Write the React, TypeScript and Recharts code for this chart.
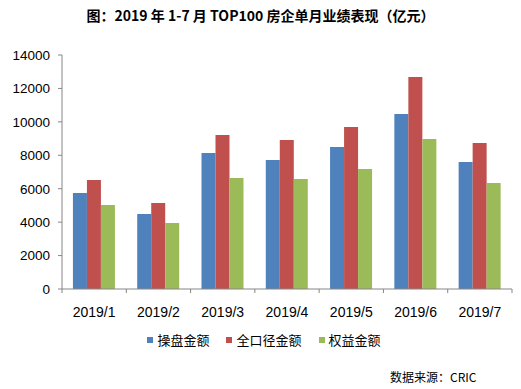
import { Bar, BarChart, Legend, XAxis, YAxis } from "recharts";

const months = ["2019/1", "2019/2", "2019/3", "2019/4", "2019/5", "2019/6", "2019/7"];
const operating = [5750, 4490, 8140, 7720, 8500, 10470, 7600];
const fullScope = [6520, 5150, 9220, 8920, 9690, 12690, 8740];
const equity = [5030, 3950, 6640, 6580, 7180, 8980, 6340];
const yTicks = [0, 2000, 4000, 6000, 8000, 10000, 12000, 14000];

const seriesInfo = [
  { key: "operating", name: "操盘金额", color: "#4F81BD" },
  { key: "fullScope", name: "全口径金额", color: "#C0504D" },
  { key: "equity", name: "权益金额", color: "#9BBB59" },
];

const data = months.map((month, i) => ({
  month,
  operating: operating[i],
  fullScope: fullScope[i],
  equity: equity[i],
}));

const W = 521;
const H = 389;
const M = { top: 55, right: 9, left: 0, bottom: 70 };
const Y_W = 62;
const bandWidth = (W - M.left - M.right - Y_W) / months.length;
const font = "'Liberation Sans', Arial, 'Noto Sans CJK SC', sans-serif";

function MonthTick(props: any) {
  const { x, y, payload, index } = props;
  const left = x - bandWidth / 2;
  return (
    <g>
      <line x1={left} y1={y - 8} x2={left} y2={y - 4} stroke="#868686" />
      {index === months.length - 1 && (
        <line x1={left + bandWidth} y1={y - 8} x2={left + bandWidth} y2={y - 4} stroke="#868686" />
      )}
      <text x={x} y={y + 20} textAnchor="middle" fontSize={14} fill="#000" fontFamily={font}>
        {payload.value}
      </text>
    </g>
  );
}

function LegendRow() {
  return (
    <div style={{ display: "flex", justifyContent: "center", fontFamily: font, paddingLeft: 24 }}>
      {seriesInfo.map((s) => (
        <div key={s.key} style={{ display: "flex", alignItems: "center", marginRight: 17 }}>
          <span style={{ width: 6, height: 6, background: s.color, marginRight: 4 }} />
          <span style={{ fontSize: 13, color: "#000" }}>{s.name}</span>
        </div>
      ))}
    </div>
  );
}

export default function App() {
  return (
    <div
      style={{
        position: "absolute",
        left: 0,
        top: 0,
        width: W,
        height: H,
        background: "#fff",
        fontFamily: font,
      }}
    >
      <div
        style={{
          position: "absolute",
          top: 5,
          left: 0,
          width: W,
          textAlign: "center",
          fontSize: 14,
          fontWeight: 700,
          color: "#000",
          fontFamily: "'Noto Sans CJK SC', sans-serif",
        }}
      >
        图：2019 年 1-7 月 TOP100 房企单月业绩表现（亿元）
      </div>
      <BarChart
        width={W}
        height={H}
        data={data}
        margin={M}
        barCategoryGap="17%"
        barGap={0}
      >
        <XAxis
          dataKey="month"
          axisLine={{ stroke: "#868686" }}
          tickLine={false}
          tick={<MonthTick />}
          interval={0}
          height={30}
        />
        <YAxis
          domain={[0, 14000]}
          ticks={yTicks}
          interval={0}
          width={Y_W}
          axisLine={{ stroke: "#868686" }}
          tickLine={{ stroke: "#868686" }}
          tickSize={4}
          tickMargin={8}
          tick={{ fontSize: 13.5, fill: "#000", fontFamily: font }}
        />
        <Legend
          layout="horizontal"
          verticalAlign="middle"
          align="center"
          content={<LegendRow />}
          wrapperStyle={{ top: 330, left: 0, width: W }}
        />
        {seriesInfo.map((s) => (
          <Bar key={s.key} dataKey={s.key} name={s.name} fill={s.color} isAnimationActive={false} />
        ))}
      </BarChart>
      <div
        style={{
          position: "absolute",
          top: 368,
          left: 390,
          fontSize: 12,
          color: "#000",
          fontFamily: "'Noto Sans CJK SC', sans-serif",
        }}
      >
        数据来源：CRIC
      </div>
    </div>
  );
}
